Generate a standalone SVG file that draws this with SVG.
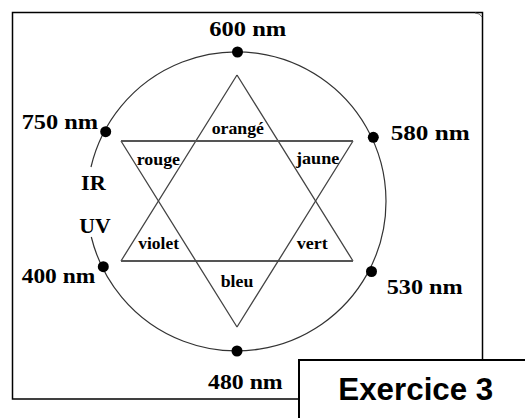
<svg xmlns="http://www.w3.org/2000/svg" width="525" height="418" viewBox="0 0 525 418">
<style>
.lbl{font-family:"Liberation Serif","Times New Roman",serif;font-weight:bold;font-size:20px;fill:#000}
.in{font-family:"Liberation Serif","Times New Roman",serif;font-weight:bold;font-size:17px;fill:#000}
.big{font-family:"Liberation Serif","Times New Roman",serif;font-weight:bold;font-size:22px;fill:#000}
.dot{fill:#000}
.arc{fill:none;stroke:#333;stroke-width:1.2}
.tri{fill:none;stroke:#444;stroke-width:1.3}
.hline{fill:none;stroke:#555;stroke-width:1.8}
</style>
<rect width="525" height="418" fill="#fff"/>
<g id="frame">
<rect x="12.5" y="12.5" width="470" height="386.5" fill="none" stroke="#000" stroke-width="1.5"/>
<path d="M475,13 Q480,13 482,17" fill="none" stroke="#666" stroke-width="1"/>
</g>
<g id="circle">
<path class="arc" d="M91,167 A149.5,149.5 0 1 1 91.3,237"/>
</g>
<g id="connectors">
<path class="tri" d="M237,75 L121,261 M237,75 L353,261"/>
<path class="hline" d="M121,261 L353,261"/>
<path class="tri" d="M121,141 L237,327 M353,141 L237,327"/>
<path class="hline" d="M121,141 L353,141"/>
</g>
<g id="n600"><circle class="dot" cx="237.5" cy="52" r="5.5"/><text class="lbl" x="209.3" y="36" textLength="77" lengthAdjust="spacingAndGlyphs">600 nm</text></g>
<g id="n750"><circle class="dot" cx="105.7" cy="131.7" r="5.5"/><text class="lbl" x="21.7" y="129" textLength="76.5" lengthAdjust="spacingAndGlyphs">750 nm</text></g>
<g id="n580"><circle class="dot" cx="373.3" cy="137.3" r="5.5"/><text class="lbl" x="390.7" y="139.5" textLength="79" lengthAdjust="spacingAndGlyphs">580 nm</text></g>
<g id="n400"><circle class="dot" cx="103.3" cy="266.7" r="5.5"/><text class="lbl" x="21.7" y="283" textLength="73.5" lengthAdjust="spacingAndGlyphs">400 nm</text></g>
<g id="n530"><circle class="dot" cx="371.5" cy="271.5" r="5.5"/><text class="lbl" x="386.7" y="294" textLength="76" lengthAdjust="spacingAndGlyphs">530 nm</text></g>
<g id="n480"><circle class="dot" cx="237" cy="351" r="5.5"/><text class="lbl" x="208" y="389" textLength="74.7" lengthAdjust="spacingAndGlyphs">480 nm</text></g>
<g id="ir"><text class="big" x="81" y="190" textLength="24.7" lengthAdjust="spacingAndGlyphs">IR</text></g>
<g id="uv"><text class="big" x="79.3" y="232.7" textLength="31.4" lengthAdjust="spacingAndGlyphs">UV</text></g>
<g id="orange"><text class="in" x="211.7" y="134" textLength="52.3" lengthAdjust="spacingAndGlyphs">orangé</text></g>
<g id="rouge"><text class="in" x="136.7" y="164.5" textLength="43.3" lengthAdjust="spacingAndGlyphs">rouge</text></g>
<g id="jaune"><text class="in" x="296" y="164" textLength="43.3" lengthAdjust="spacingAndGlyphs">jaune</text></g>
<g id="violet"><text class="in" x="138.3" y="249" textLength="40.7" lengthAdjust="spacingAndGlyphs">violet</text></g>
<g id="vert"><text class="in" x="296.7" y="249" textLength="31" lengthAdjust="spacingAndGlyphs">vert</text></g>
<g id="bleu"><text class="in" x="220.7" y="286.5" textLength="32.6" lengthAdjust="spacingAndGlyphs">bleu</text></g>
<g id="exercice">
<rect x="299" y="360" width="240" height="70" fill="#fff" stroke="#000" stroke-width="2"/>
<text x="338.3" y="400" font-family="Liberation Sans, Arial, sans-serif" font-weight="bold" font-size="31.5" textLength="155" lengthAdjust="spacingAndGlyphs">Exercice 3</text>
</g>
</svg>
